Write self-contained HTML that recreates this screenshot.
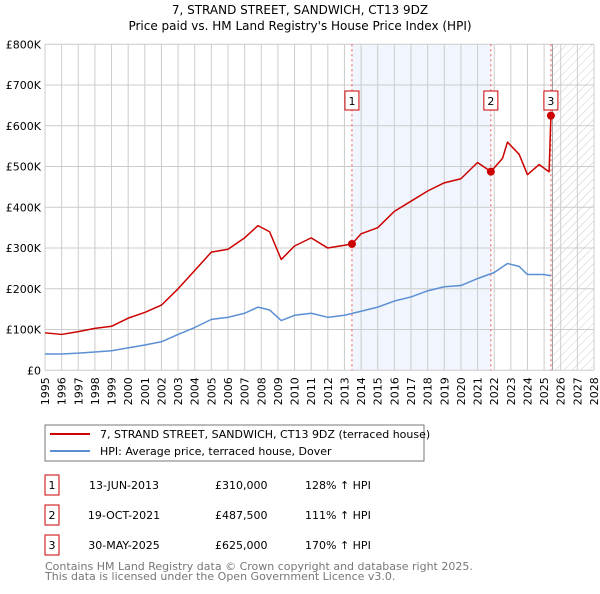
<!DOCTYPE html>
<html><head><meta charset="utf-8"><style>
body{margin:0;background:#fff;font-family:"DejaVu Sans","Liberation Sans",sans-serif;}
svg text{font-family:"DejaVu Sans","Liberation Sans",sans-serif;}
</style></head><body>
<svg id="c" width="600" height="590" xmlns="http://www.w3.org/2000/svg">
<defs>
<pattern id="hatch" width="6" height="6" patternUnits="userSpaceOnUse" patternTransform="rotate(45)">
<line x1="0" y1="0" x2="0" y2="6" stroke="#ccc" stroke-width="1"/>
</pattern>
</defs>
<text x="300" y="14" text-anchor="middle" font-size="12">7, STRAND STREET, SANDWICH, CT13 9DZ</text>
<text x="300" y="30" text-anchor="middle" font-size="12">Price paid vs. HM Land Registry's House Price Index (HPI)</text>
<g id="plot"></g>
<rect x="45" y="425" width="379" height="36" fill="#fff" stroke="#777"/>
<line x1="50" y1="434" x2="90" y2="434" stroke="#cc0000" stroke-width="2"/>
<text x="100" y="438" font-size="11">7, STRAND STREET, SANDWICH, CT13 9DZ (terraced house)</text>
<line x1="50" y1="451" x2="90" y2="451" stroke="#5b8fd4" stroke-width="2"/>
<text x="100" y="455" font-size="11">HPI: Average price, terraced house, Dover</text>
<g id="table" font-size="11"></g>
<text x="45" y="570" font-size="11" fill="#777">Contains HM Land Registry data © Crown copyright and database right 2025.</text>
<text x="45" y="580" font-size="11" fill="#777">This data is licensed under the Open Government Licence v3.0.</text>
</svg>
<script>
const hpiYears=[1995,1996,1997,1998,1999,2000,2001,2002,2003,2004,2005,2006,2007,2007.8,2008.5,2009.2,2010,2011,2012,2013,2014,2015,2016,2017,2018,2019,2020,2021,2022,2022.8,2023.5,2024,2025,2025.4];
const hpiValues=[40,40,42,45,48,55,62,70,88,105,125,130,140,155,148,122,135,140,130,135,145,155,170,180,195,205,208,225,240,262,255,235,235,232];
const propYears=[1995,1996,1997,1998,1999,2000,2001,2002,2003,2004,2005,2006,2007,2007.8,2008.5,2009.2,2010,2011,2012,2013.45,2014,2015,2016,2017,2018,2019,2020,2021,2021.8,2022.5,2022.8,2023.5,2024,2024.7,2025.3,2025.41];
const propValues=[92,88,95,103,108,128,142,160,200,245,290,297,325,355,340,272,305,325,300,310,335,350,390,415,440,460,470,510,487.5,520,560,530,480,505,487,625];
const saleYears=[2013.45,2021.8,2025.41];
const saleValues=[310,487.5,625];
const saleDates=["13-JUN-2013","19-OCT-2021","30-MAY-2025"];
const salePrices=["£310,000","£487,500","£625,000"];
const saleHpi=["128% ↑ HPI","111% ↑ HPI","170% ↑ HPI"];
const yTicks=[0,100,200,300,400,500,600,700,800];
const yTickLabels=["£0","£100K","£200K","£300K","£400K","£500K","£600K","£700K","£800K"];
const xStart=1995,xEnd=2028;

const X0=45,X1=594,Y0=370.3,Y1=44.3;
const sx=y=>X0+(y-xStart)/(xEnd-xStart)*(X1-X0);
const sy=v=>Y0-(v/800)*(Y0-Y1);
const NS="http://www.w3.org/2000/svg";
const g=document.getElementById('plot');
function mk(tag,attrs,parent){const e=document.createElementNS(NS,tag);for(const k in attrs)e.setAttribute(k,attrs[k]);(parent||g).appendChild(e);return e;}

// shaded region between sale 1 and 2
let sh=mk('rect',{x:sx(saleYears[0]),y:Y1,width:sx(saleYears[1])-sx(saleYears[0]),height:Y0-Y1,fill:'#eef3fd',opacity:0.8});


// hatch future
const hs=2025.5;
let ht=mk('rect',{x:sx(hs),y:Y1,width:X1-sx(hs),height:Y0-Y1,fill:'url(#hatch)'});


// gridlines
for(let yr=xStart;yr<=xEnd;yr++){
  let l=mk('line',{x1:sx(yr),x2:sx(yr),y1:Y1,y2:Y0,stroke:'#ccc','stroke-width':1});
  
  
  let t=mk('text',{x:0,y:0,'font-size':11,'text-anchor':'end',transform:`translate(${sx(yr)+4},${Y0+7}) rotate(-90)`});
  t.textContent=yr;
  
  
}
yTicks.forEach((v,i)=>{
  let l=mk('line',{x1:X0,x2:X1,y1:sy(v),y2:sy(v),stroke:'#ccc','stroke-width':1});
  
  
  let t=mk('text',{x:X0-4,y:sy(v)+4,'font-size':11,'text-anchor':'end'});
  t.textContent=yTickLabels[i];
  
  
});
let vl=mk('line',{x1:sx(hs),x2:sx(hs),y1:Y1,y2:Y0,stroke:'#999','stroke-width':1});


// sale lines
saleYears.forEach((yr,i)=>{
  let l=mk('line',{x1:sx(yr),x2:sx(yr),y1:Y1,y2:Y0,stroke:'#e55','stroke-width':1,'stroke-dasharray':'2,3'});
  
  
  let b=mk('rect',{x:sx(yr)-7,y:91,width:14,height:19,fill:'#fff',stroke:'#cc0000'});
  
  
  let t=mk('text',{x:sx(yr),y:105,'font-size':11,'text-anchor':'middle'});
  t.textContent=i+1;
  
  
});
function line(xs,vs,col,name){
  let p=mk('polyline',{points:xs.map((x,i)=>sx(x)+','+sy(vs[i])).join(' '),fill:'none',stroke:col,'stroke-width':1.5,'stroke-linejoin':'round'});
  
  
}
line(hpiYears,hpiValues,'#5b8fd4','hpi-line');
line(propYears,propValues,'#cc0000','property-price-line');
saleYears.forEach((yr,i)=>{
  let c=mk('circle',{cx:sx(yr),cy:sy(saleValues[i]),r:4,fill:'#cc0000'});
  
  
});
// table
const tb=document.getElementById('table');
saleDates.forEach((d,i)=>{
  const y=485+i*30;
  let b=mk('rect',{x:45,y:y-10,width:14,height:20,fill:'#fff',stroke:'#cc0000'},tb);
  
  
  let n=mk('text',{x:52,y:y+4,'text-anchor':'middle'},tb);n.textContent=i+1;
  
  
  let t1=mk('text',{x:124,y:y+4,'text-anchor':'middle'},tb);t1.textContent=d;
  
  
  let t2=mk('text',{x:215,y:y+4},tb);t2.textContent=salePrices[i];
  
  
  let t3=mk('text',{x:305,y:y+4},tb);t3.textContent=saleHpi[i];
  
  
});
</script>
</body></html>
